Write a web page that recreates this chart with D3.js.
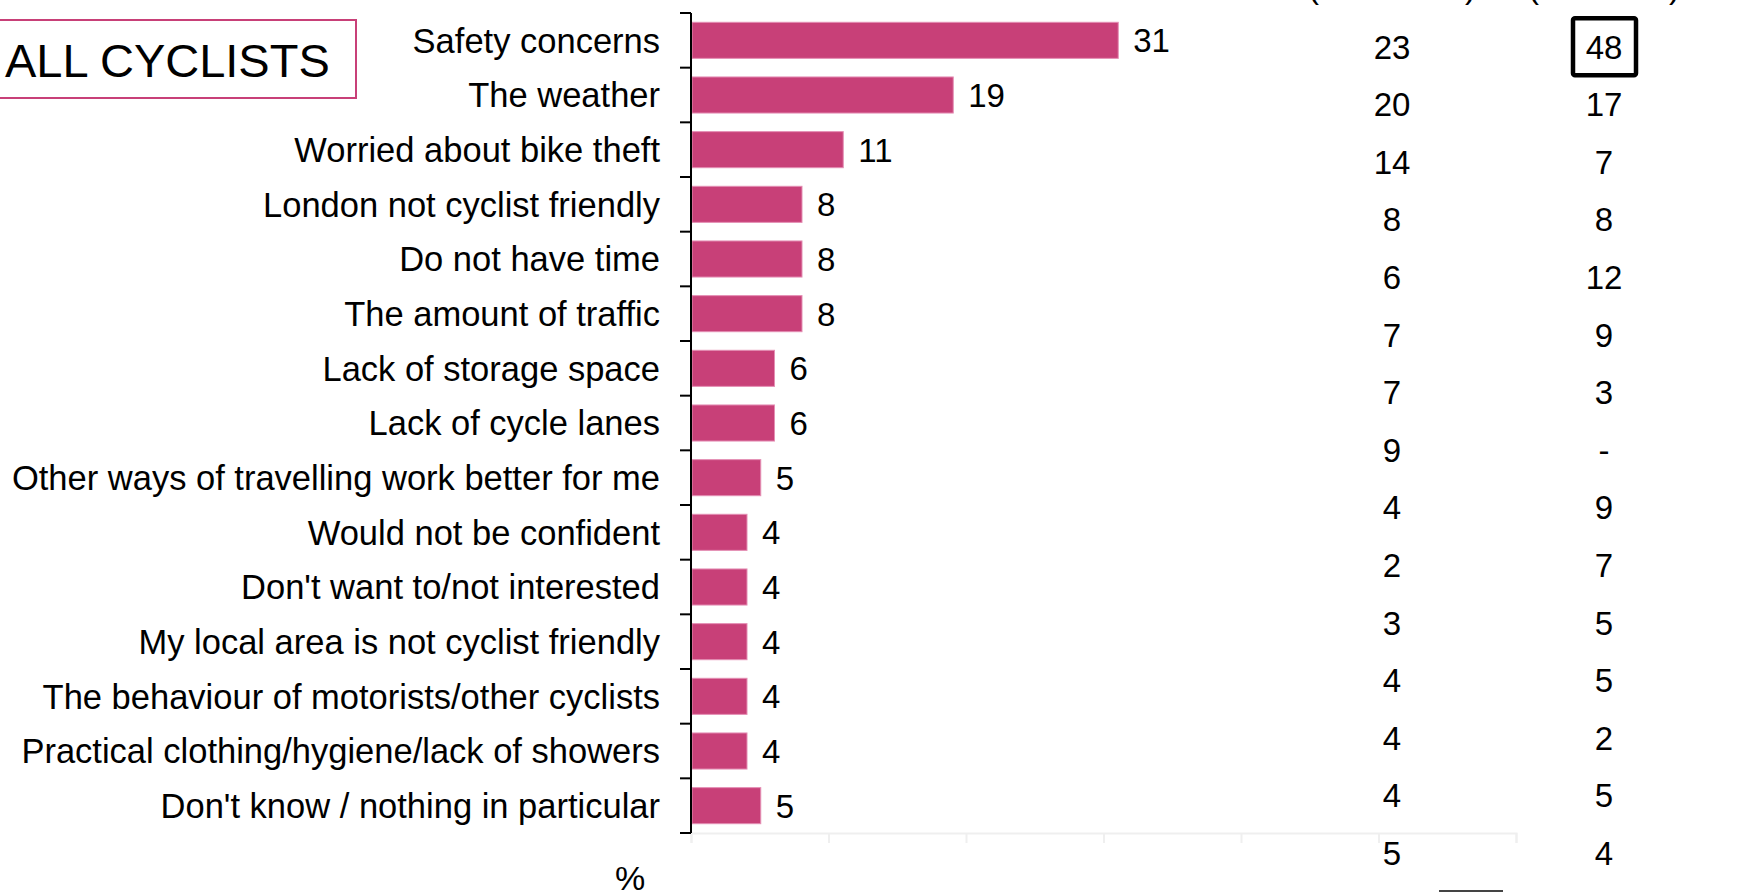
<!DOCTYPE html>
<html>
<head>
<meta charset="utf-8">
<script src="https://cdn.jsdelivr.net/npm/d3@7"></script>
<style>
  html, body { margin: 0; padding: 0; background: #fff; overflow: hidden; }
  svg { display: block; font-family: "Liberation Sans", Arial, sans-serif; }
</style>
</head>
<body>
<svg id="chart" width="1746" height="892"></svg>
<script>
// ---- data ----
const categories = [
  "Safety concerns",
  "The weather",
  "Worried about bike theft",
  "London not cyclist friendly",
  "Do not have time",
  "The amount of traffic",
  "Lack of storage space",
  "Lack of cycle lanes",
  "Other ways of travelling work better for me",
  "Would not be confident",
  "Don't want to/not interested",
  "My local area is not cyclist friendly",
  "The behaviour of motorists/other cyclists",
  "Practical clothing/hygiene/lack of showers",
  "Don't know / nothing in particular"
];
const allCyclists = [31, 19, 11, 8, 8, 8, 6, 6, 5, 4, 4, 4, 4, 4, 5];
const column1 = ["23", "20", "14", "8", "6", "7", "7", "9", "4", "2", "3", "4", "4", "4", "5"];
const column2 = ["48", "17", "7", "8", "12", "9", "3", "-", "9", "7", "5", "5", "2", "5", "4"];
const columnHeaders = ["(Base: 115)", "(Base: 67)"];
const gridTicks = [0, 10, 20, 30, 40, 50, 60];
const highlightCell = { column: 1, row: 0 };
const panelTitle = "ALL CYCLISTS";
const unitLabel = "%";

// ---- layout ----
const svg = d3.select("#chart");
const barColor = "#c84078";

const x = d3.scaleLinear().domain([0, 60]).range([691, 1516]);
const y = d3.scaleBand().domain(categories).range([13, 833]).paddingInner(0.34).paddingOuter(0.17);
const yAxisScale = d3.scaleBand().domain(categories).range([13, 833]);

// faint bottom grid axis
const gx = svg.append("g").attr("transform", "translate(0,833)")
  .call(d3.axisBottom(x).tickValues(gridTicks).tickSize(10).tickFormat(""));
gx.select(".domain").attr("stroke", "#efefef").attr("stroke-width", 2);
gx.selectAll(".tick line").attr("stroke", "#efefef").attr("stroke-width", 2);

// bars
svg.append("g").selectAll("rect").data(allCyclists).join("rect")
  .attr("x", x(0) + 1)
  .attr("y", (d, i) => y(categories[i]))
  .attr("width", d => x(d) - x(0))
  .attr("height", y.bandwidth())
  .attr("fill", barColor)
  .attr("stroke", "#e48fb4")
  .attr("stroke-width", 1);

// value labels
svg.append("g").selectAll("text").data(allCyclists).join("text")
  .attr("x", d => x(d) + 16)
  .attr("y", (d, i) => y(categories[i]) + y.bandwidth() / 2)
  .attr("dy", "0.36em")
  .attr("font-size", 33)
  .attr("fill", "#000")
  .text(d => d);

// y axis: line with ticks at category boundaries
const boundaries = categories.map(c => yAxisScale(c)).concat([yAxisScale.range()[1]]);
const yAx = svg.append("g");
yAx.append("line")
  .attr("x1", x(0)).attr("x2", x(0))
  .attr("y1", boundaries[0]).attr("y2", boundaries[boundaries.length - 1])
  .attr("stroke", "#000").attr("stroke-width", 2);
yAx.selectAll("line.tk").data(boundaries).join("line").attr("class", "tk")
  .attr("x1", x(0) - 11).attr("x2", x(0))
  .attr("y1", d => d).attr("y2", d => d)
  .attr("stroke", "#000").attr("stroke-width", 2);

// category labels
svg.append("g").selectAll("text").data(categories).join("text")
  .attr("x", 660)
  .attr("y", d => yAxisScale(d) + yAxisScale.bandwidth() / 2)
  .attr("dy", "0.36em")
  .attr("text-anchor", "end")
  .attr("font-size", 34.5)
  .attr("fill", "#000")
  .text(d => d);

// unit label
svg.append("text").attr("x", 630).attr("y", 890)
  .attr("text-anchor", "middle").attr("font-size", 34).text(unitLabel);

// title box
svg.append("rect").attr("x", -10).attr("y", 20).attr("width", 366).attr("height", 78)
  .attr("fill", "none").attr("stroke", barColor).attr("stroke-width", 2);
svg.append("text").attr("x", 5).attr("y", 77)
  .attr("font-size", 47).attr("fill", "#000").text(panelTitle);

// comparison table columns
const colX = d3.scaleOrdinal().domain([0, 1]).range([1392, 1604]);
const rowY = d3.scaleBand().domain(d3.range(column1.length)).range([18, 882]);
[column1, column2].forEach((col, ci) => {
  svg.append("g").selectAll("text").data(col).join("text")
    .attr("x", colX(ci))
    .attr("y", (d, i) => rowY(i) + rowY.bandwidth() / 2)
    .attr("dy", "0.36em")
    .attr("text-anchor", "middle")
    .attr("font-size", 33)
    .attr("fill", "#000")
    .text(d => d);
});
// headers (mostly cut off at top)
svg.append("g").selectAll("text").data(columnHeaders).join("text")
  .attr("x", (d, i) => colX(i))
  .attr("y", -2)
  .attr("text-anchor", "middle")
  .attr("font-size", 33)
  .text(d => d);

// highlight box around cell
svg.append("rect")
  .attr("x", colX(highlightCell.column) - 31)
  .attr("y", rowY(highlightCell.row) + rowY.bandwidth() / 2 - 28.5)
  .attr("width", 63).attr("height", 57).attr("rx", 2)
  .attr("fill", "none").attr("stroke", "#000").attr("stroke-width", 4.5);

// partial box edge at bottom
svg.append("line").attr("x1", 1439).attr("x2", 1503).attr("y1", 891).attr("y2", 891)
  .attr("stroke", "#444").attr("stroke-width", 2);
</script>
</body>
</html>
